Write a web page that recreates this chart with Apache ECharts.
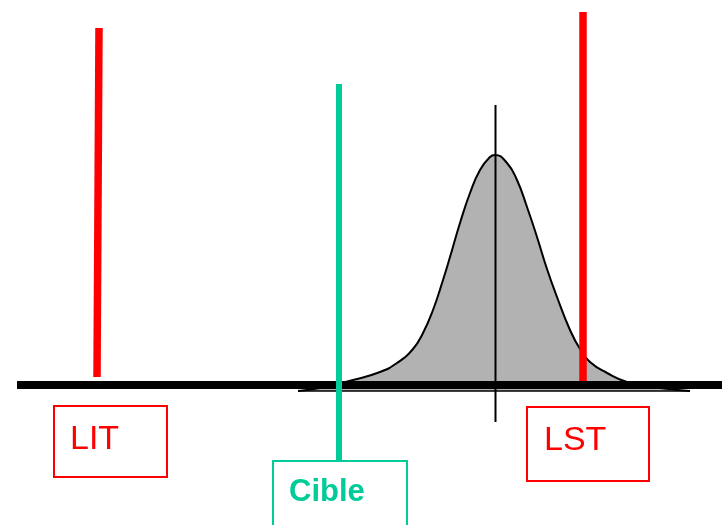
<!DOCTYPE html>
<html>
<head>
<meta charset="utf-8">
<script src="https://cdn.jsdelivr.net/npm/echarts@6/dist/echarts.min.js"></script>
<style>
  html, body { margin: 0; padding: 0; background: #fff; }
  #main { width: 722px; height: 525px; }
</style>
</head>
<body>
<div id="main"></div>
<script>
// courbe de distribution (x, hauteur au-dessus de la base)
const curveX = [298, 320, 353, 380, 397, 413, 423, 433, 443, 450, 460, 470, 480, 490, 495, 507, 517, 527, 537, 547, 557, 570, 580, 590, 607, 627, 660, 690];
const curveY = [0, 3, 11, 19, 28, 42, 58, 81, 111, 134, 168, 198, 221, 234, 236, 228, 211, 184, 154, 122, 94, 61, 42, 29, 18, 9, 3, 0];

// limites et cible : [x haut, y haut], [x bas, y bas]
const litLine = [[99, 363], [97, 14]];
const lstLine = [[583, 379], [583, 10]];
const cibleLine = [[339, 307], [339, -70]];
const meanLine = [[495.5, 286], [495.5, -31]];
const baseLine = [[17, 6], [722, 6]];
const curveBase = [[298, 0], [690, 0]];

const labels = ['LIT', 'LST', 'Cible'];

const RED = '#ff0000';
const GREEN = '#00cc99';

const chart = echarts.init(document.getElementById('main'));

function segment(data, color, width, z) {
    return {
        type: 'line',
        data: data,
        symbol: 'none',
        silent: true,
        z: z,
        lineStyle: { color: color, width: width, cap: 'butt' },
        animation: false
    };
}

const option = {
    animation: false,
    grid: { left: 0, right: 0, top: 0, bottom: 0 },
    xAxis: { type: 'value', min: 0, max: 722, show: false },
    yAxis: { type: 'value', min: -134, max: 391, show: false },
    series: [
        {
            type: 'line',
            data: curveX.map((x, i) => [x, curveY[i]]),
            symbol: 'none',
            smooth: 0.5,
            z: 1,
            lineStyle: { color: '#000', width: 2 },
            areaStyle: { color: '#b2b2b2', opacity: 1, origin: 0 }
        },
        segment(curveBase, '#000', 1.5, 2),
        segment(baseLine, '#000', 8, 3),
        segment(meanLine, '#000', 2, 4),
        segment(litLine, RED, 7.5, 5),
        segment(lstLine, RED, 7.5, 5),
        segment(cibleLine, GREEN, 6, 6)
    ],
    graphic: [
        { type: 'rect', shape: { x: 54, y: 406, width: 113, height: 71 }, style: { fill: 'none', stroke: RED, lineWidth: 2 } },
        { type: 'rect', shape: { x: 527, y: 407, width: 122, height: 74 }, style: { fill: 'none', stroke: RED, lineWidth: 2 } },
        { type: 'rect', shape: { x: 273, y: 461, width: 134, height: 80 }, style: { fill: 'none', stroke: GREEN, lineWidth: 2 } },
        { type: 'text', x: 70, y: 440, style: { text: labels[0], fill: RED, font: '34px "Liberation Sans", Arial, sans-serif', verticalAlign: 'middle' } },
        { type: 'text', x: 544, y: 441, style: { text: labels[1], fill: RED, font: '34px "Liberation Sans", Arial, sans-serif', verticalAlign: 'middle' } },
        { type: 'text', x: 289, y: 492, style: { text: labels[2], fill: GREEN, font: 'bold 31px "Liberation Sans", Arial, sans-serif', verticalAlign: 'middle' } }
    ]
};

chart.setOption(option);
</script>
</body>
</html>
